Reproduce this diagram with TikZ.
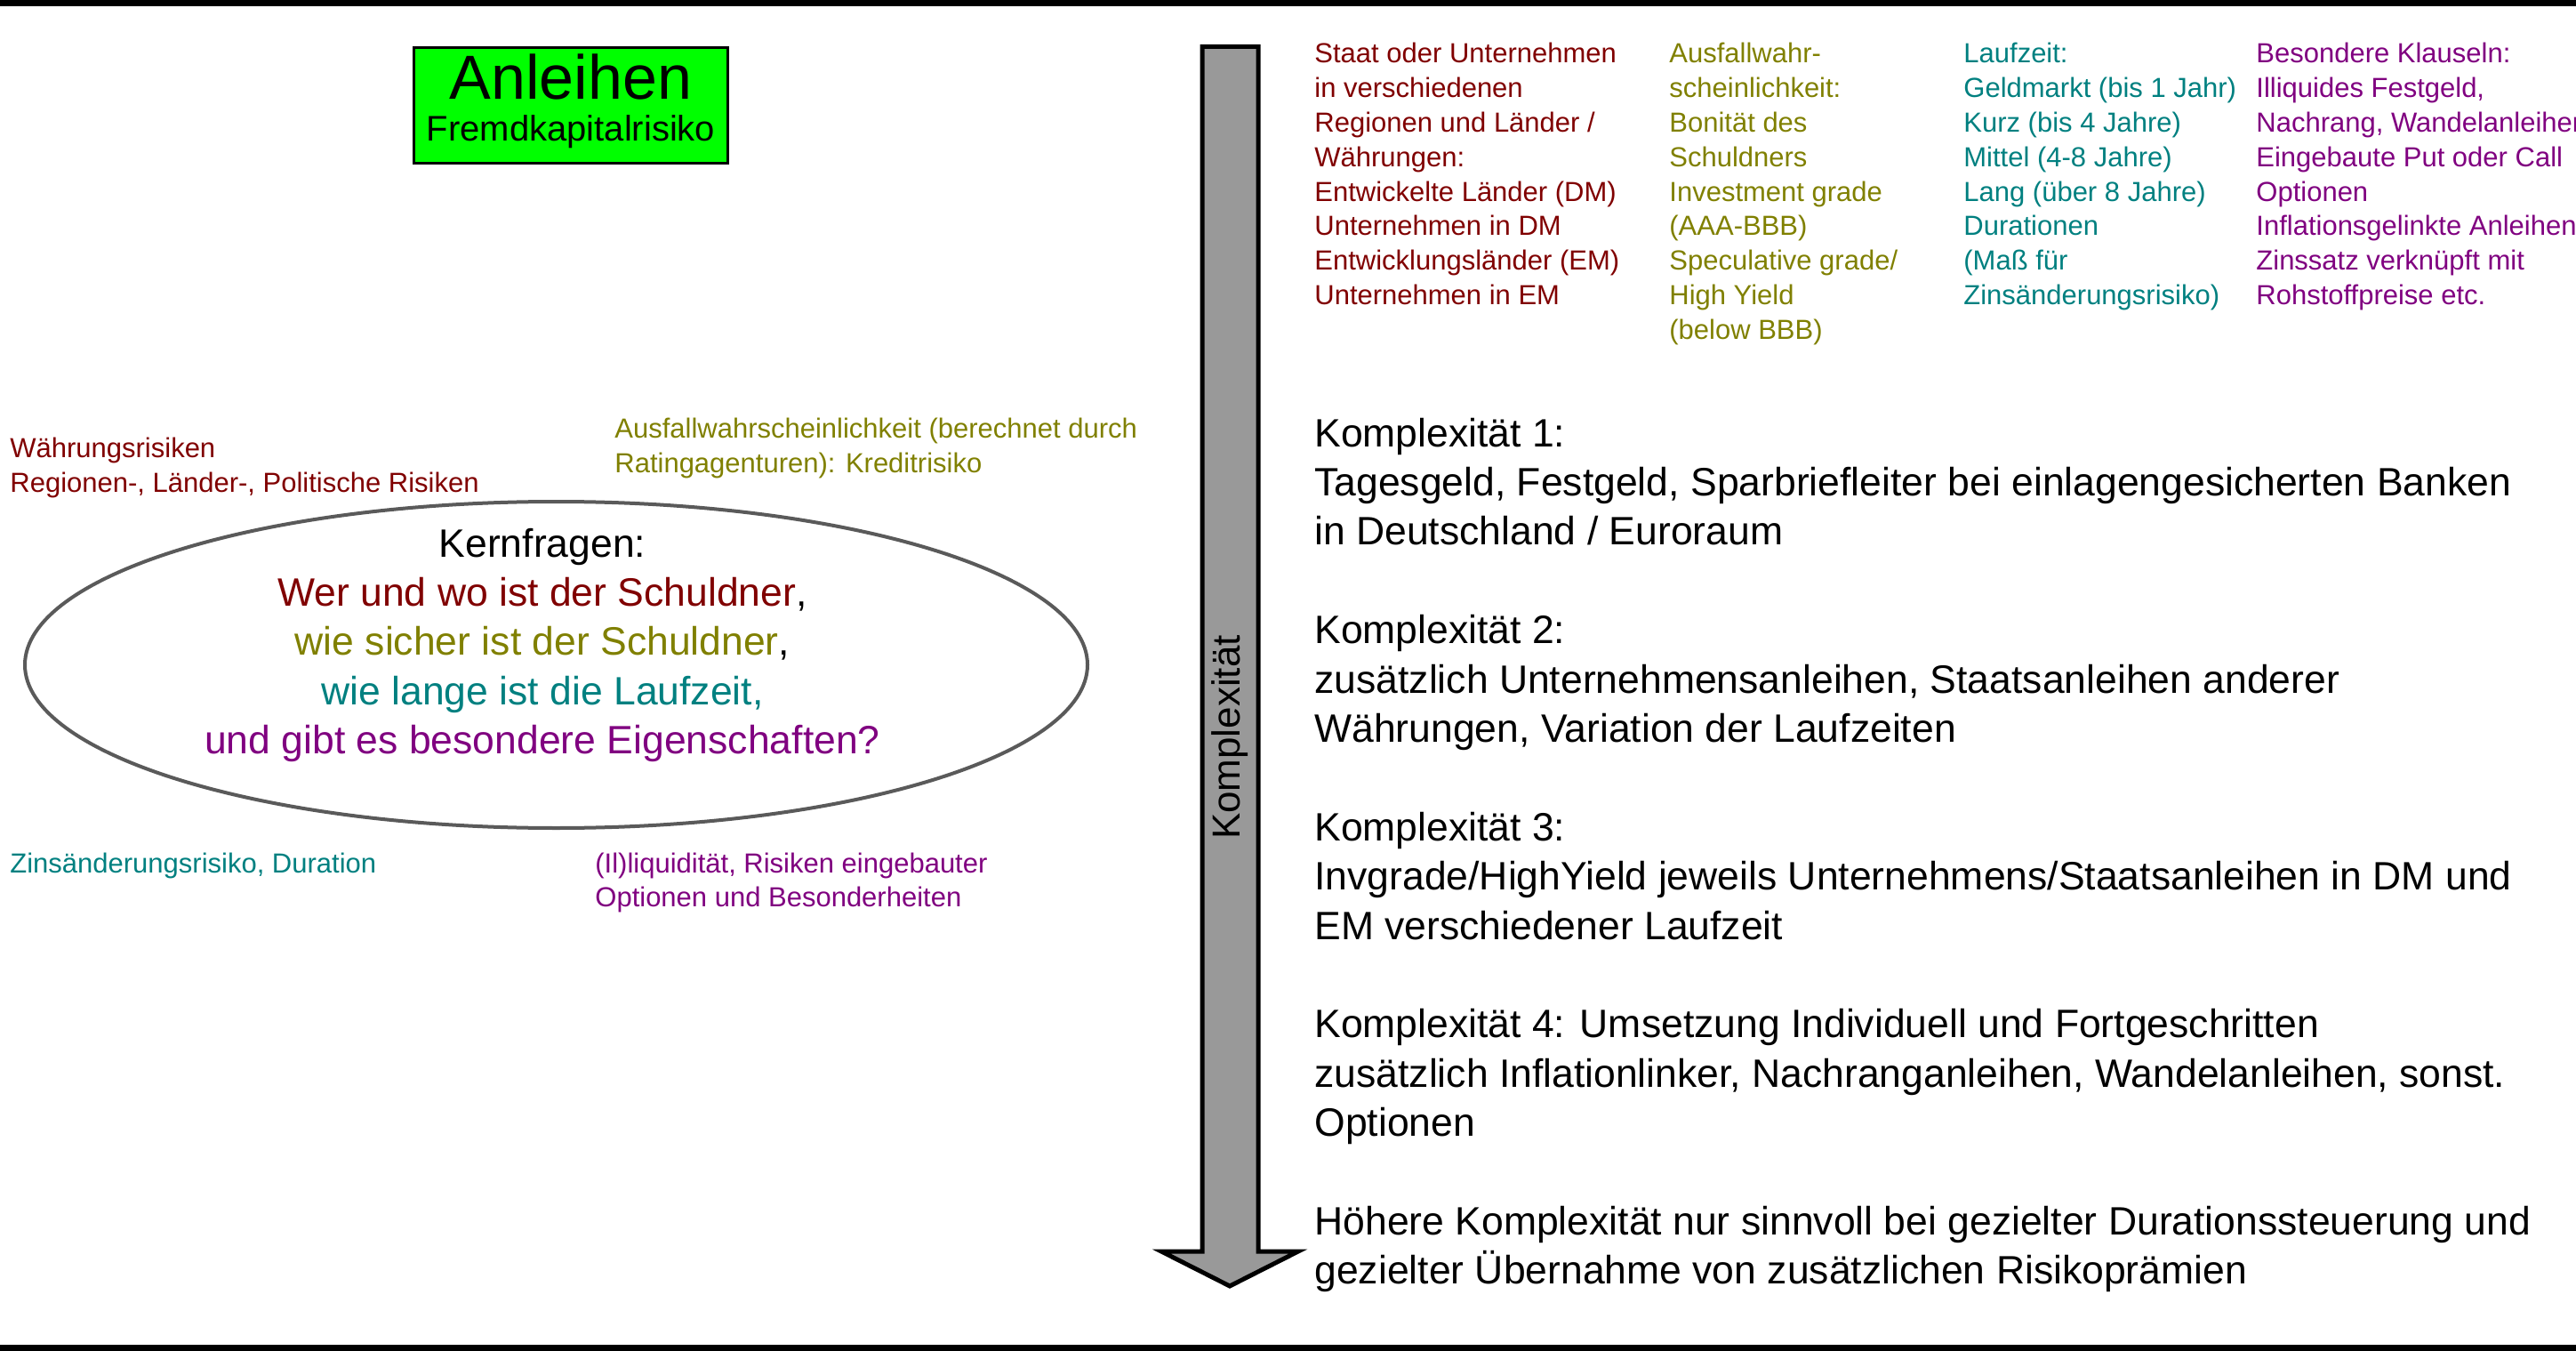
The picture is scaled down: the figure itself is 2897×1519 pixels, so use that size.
\documentclass[tikz,border=0pt]{standalone}
\usepackage{fontspec}
\setmainfont{Liberation Sans}
\definecolor{rot}{HTML}{800000}
\definecolor{oliv}{HTML}{808000}
\definecolor{petrol}{HTML}{008080}
\definecolor{lila}{HTML}{800080}
\definecolor{pfeilgrau}{HTML}{999999}
\definecolor{randgrau}{HTML}{5A5A5A}
\begin{document}
\begin{tikzpicture}[x=0.5pt,y=-0.5pt,line join=miter,
	klein/.style={font=\fontsize{15.5}{19.4}\selectfont,align=left,anchor=base west,inner sep=0pt},
	gross/.style={font=\fontsize{22.25}{27.7}\selectfont,align=left,anchor=base west,inner sep=0pt}]
		\useasboundingbox (0,0) rectangle (2897,1519) ;
		\clip (0,0) rectangle (2897,1519) ;
		\draw[line width=3.5pt] (0,3.5)--(2897,3.5) ;
		\draw[line width=3.5pt] (0,1515.5)--(2897,1515.5) ;
		\node[draw,line width=1.5pt,fill=green,minimum width=176.5pt,minimum height=65pt,inner sep=0pt] (titel) at (642,118.5) {} ;
		\node[anchor=base,inner sep=0pt,font=\fontsize{35}{40}\selectfont] (titel1) at (642,112) {Anleihen} ;
		\node[anchor=base,inner sep=0pt,font=\fontsize{20}{24}\selectfont] (titel2) at (642,159) {Fremdkapitalrisiko} ;
		\coordinate (P1) at (1352,52.5) ; \coordinate (P2) at (1415,52.5) ;
		\coordinate (P3) at (1415,1407) ; \coordinate (P4) at (1460,1407) ;
		\coordinate (P5) at (1383,1446) ;
		\coordinate (P6) at (1306,1407) ; \coordinate (P7) at (1352,1407) ;
		\draw[line width=2.5pt,fill=pfeilgrau] (P1)--(P2)--(P3)--(P4)--(P5)--(P6)--(P7)--cycle ;
		\node[rotate=90,inner sep=0pt,font=\fontsize{22}{27.7}\selectfont] (komplex) at (1383,829) {Komplexität} ;
		\coordinate (M) at (625.5,747.5) ;
		\draw[line width=2pt,randgrau] (M) ellipse [x radius=597.5,y radius=183.5] ;
		\node[gross,anchor=base,align=center] (kern) at (610,847.6) {Kernfragen:\\
			\textcolor{rot}{Wer und wo ist der Schuldner},\\
			\textcolor{oliv}{wie sicher ist der Schuldner},\\
			\textcolor{petrol}{wie lange ist die Laufzeit,}\\
			\textcolor{lila}{und gibt es besondere Eigenschaften?}} ;
		\node[klein,text=rot] (waehrung) at (11,553.8) {Währungsrisiken\\Regionen-, Länder-, Politische Risiken} ;
		\node[klein,text=oliv] (ausfall) at (691,531.8) {Ausfallwahrscheinlichkeit (berechnet durch\\Ratingagenturen): Kreditrisiko} ;
		\node[klein,text=petrol] (zins) at (11,981) {Zinsänderungsrisiko, Duration} ;
		\node[klein,text=lila] (liqui) at (669,1019.8) {(Il)liquidität, Risiken eingebauter\\Optionen und Besonderheiten} ;
		\node[klein,text=rot] (spalte1) at (1478,342.6) {Staat oder Unternehmen\\in verschiedenen\\Regionen und Länder /\\Währungen:\\Entwickelte Länder (DM)\\Unternehmen in DM\\Entwicklungsländer (EM)\\Unternehmen in EM} ;
		\node[klein,text=oliv] (spalte2) at (1877,381.4) {Ausfallwahr-\\scheinlichkeit:\\Bonität des\\Schuldners\\Investment grade\\(AAA-BBB)\\Speculative grade/\\High Yield\\(below BBB)} ;
		\node[klein,text=petrol] (spalte3) at (2208,342.6) {Laufzeit:\\Geldmarkt (bis 1 Jahr)\\Kurz (bis 4 Jahre)\\Mittel (4-8 Jahre)\\Lang (über 8 Jahre)\\Durationen\\(Maß für\\Zinsänderungsrisiko)} ;
		\node[klein,text=lila] (spalte4) at (2537,342.6) {Besondere Klauseln:\\Illiquides Festgeld,\\Nachrang, Wandelanleihen\\Eingebaute Put oder Call\\Optionen\\Inflationsgelinkte Anleihen\\Zinssatz verknüpft mit\\Rohstoffpreise etc.} ;
		\node[gross] (k1) at (1478,612.8) {Komplexität 1:\\Tagesgeld, Festgeld, Sparbriefleiter bei einlagengesicherten Banken\\in Deutschland / Euroraum} ;
		\node[gross] (k2) at (1478,834.4) {Komplexität 2:\\zusätzlich Unternehmensanleihen, Staatsanleihen anderer\\Währungen, Variation der Laufzeiten} ;
		\node[gross] (k3) at (1478,1056) {Komplexität 3:\\Invgrade/HighYield jeweils Unternehmens/Staatsanleihen in DM und\\EM verschiedener Laufzeit} ;
		\node[gross] (k4) at (1478,1277.6) {Komplexität 4: Umsetzung Individuell und Fortgeschritten\\zusätzlich Inflationlinker, Nachranganleihen, Wandelanleihen, sonst.\\Optionen} ;
		\node[gross] (k5) at (1478,1443.8) {Höhere Komplexität nur sinnvoll bei gezielter Durationssteuerung und\\gezielter Übernahme von zusätzlichen Risikoprämien} ;
	\end{tikzpicture}
\end{document}
